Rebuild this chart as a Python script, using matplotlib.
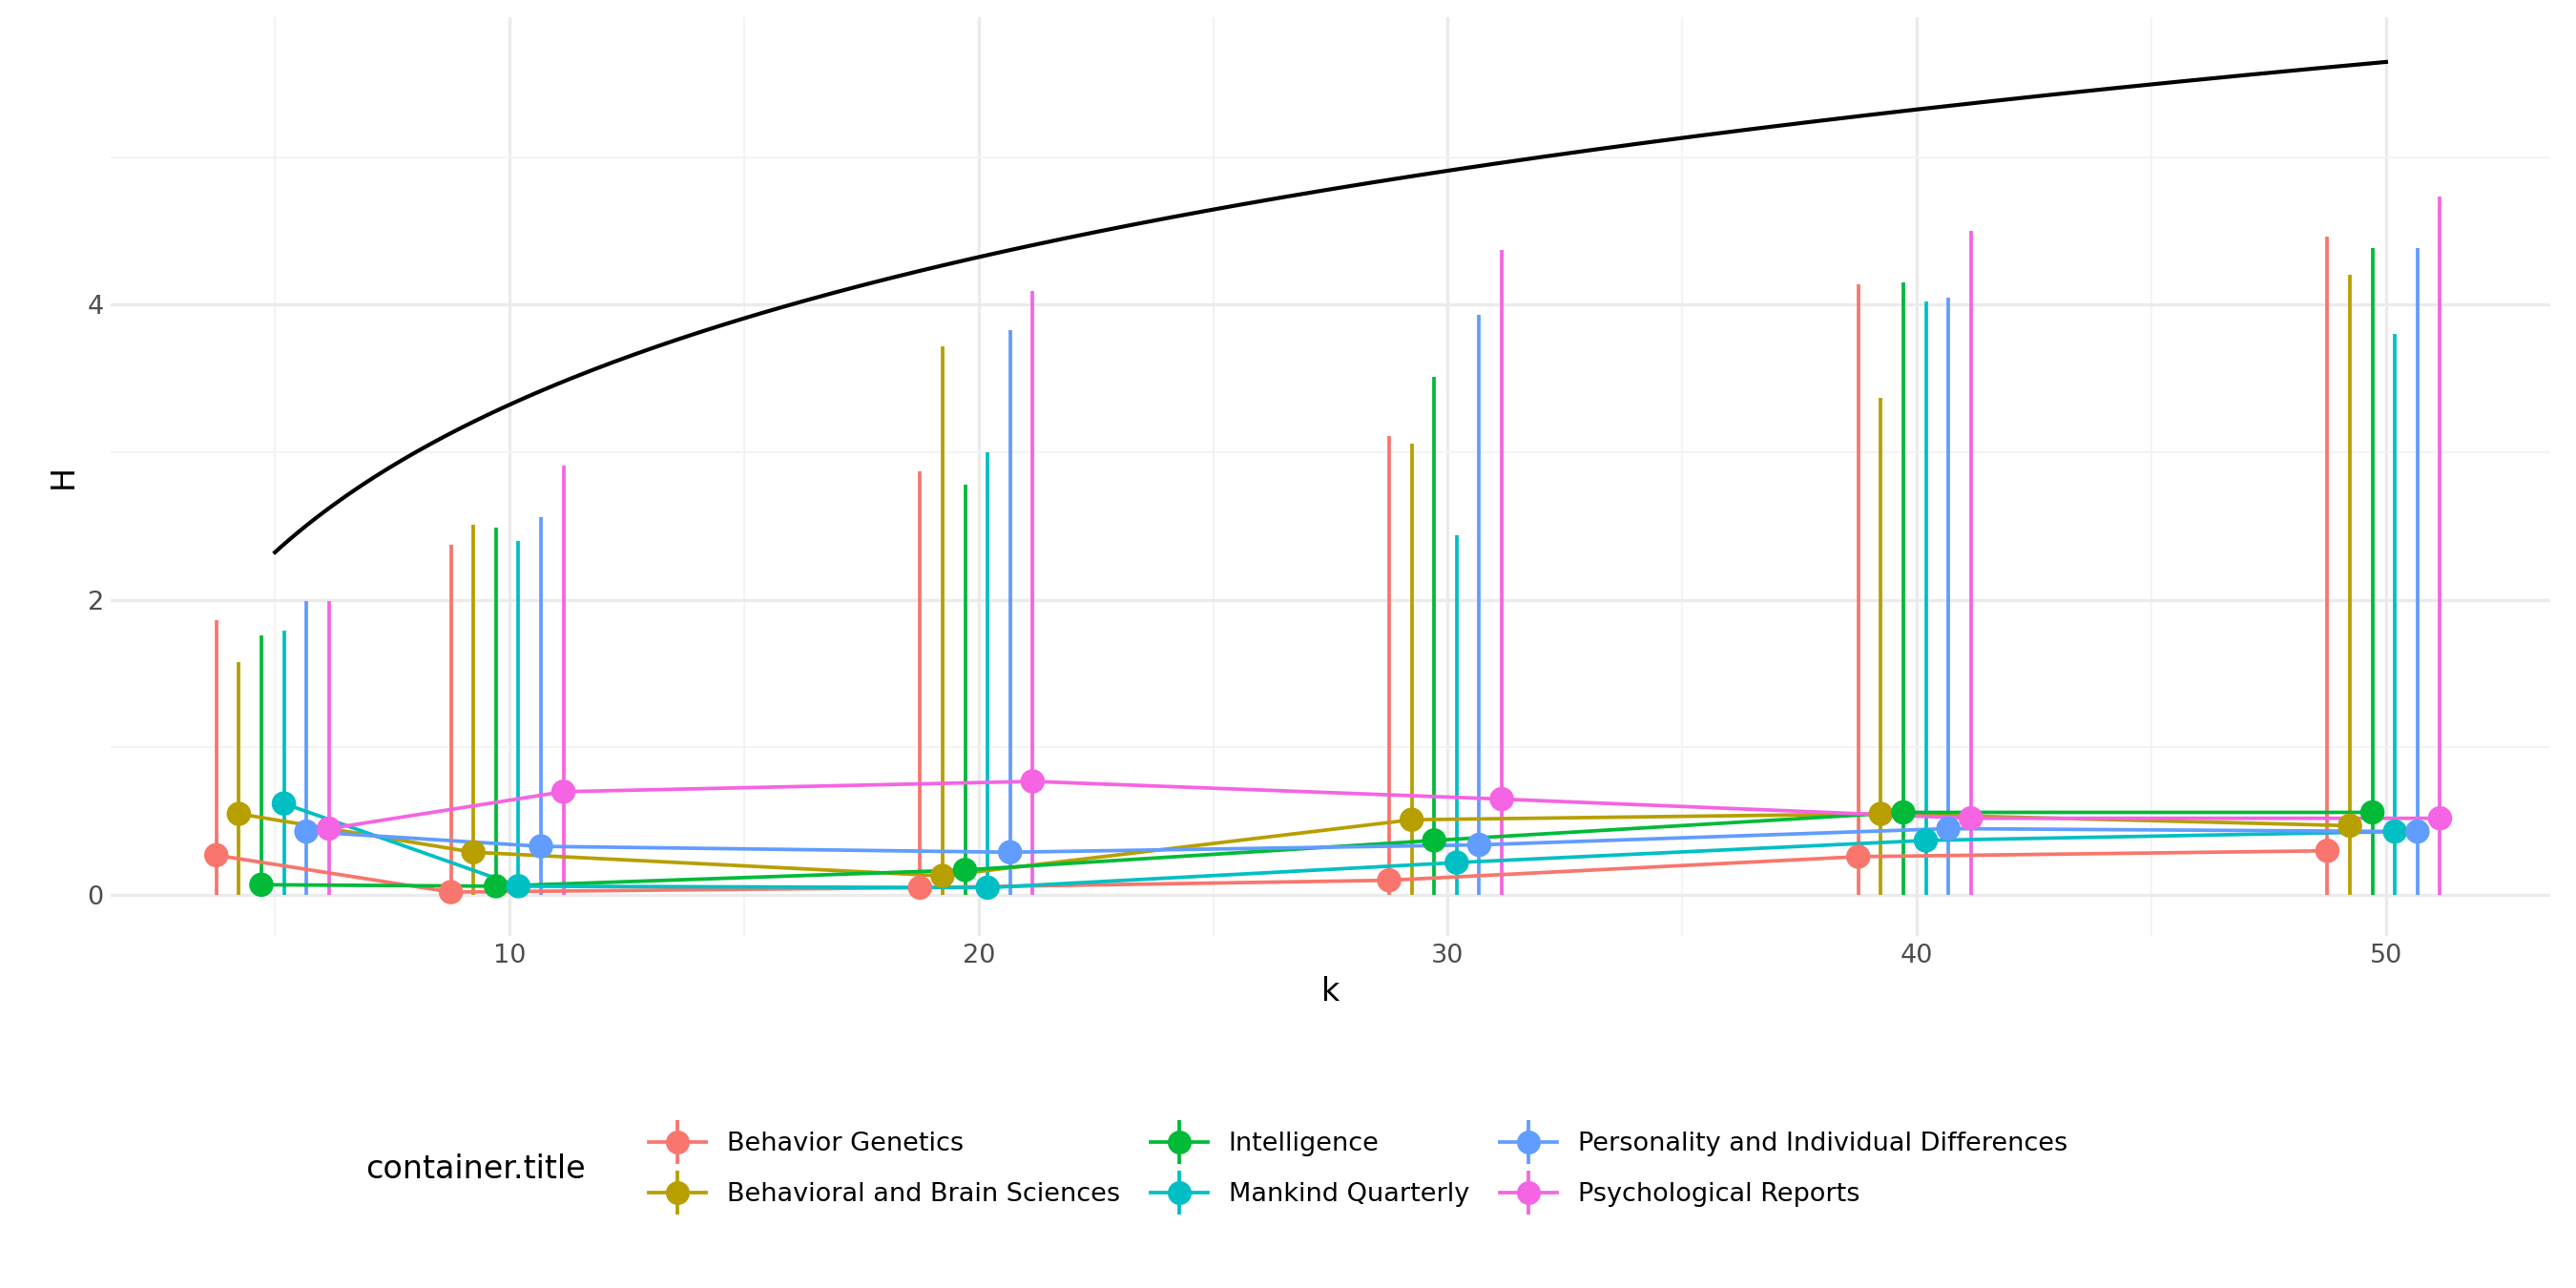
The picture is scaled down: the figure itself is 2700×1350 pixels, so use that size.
import matplotlib
matplotlib.use("Agg")
import matplotlib.pyplot as plt
import numpy as np
from matplotlib.lines import Line2D

k = [5, 10, 20, 30, 40, 50]
series = ["Behavior Genetics", "Behavioral and Brain Sciences", "Intelligence",
          "Mankind Quarterly", "Personality and Individual Differences", "Psychological Reports"]
colors = ["#F8766D", "#B79F00", "#00BA38", "#00BFC4", "#619CFF", "#F564E3"]
H = {
    "Behavior Genetics": [0.27, 0.02, 0.05, 0.10, 0.26, 0.30],
    "Behavioral and Brain Sciences": [0.55, 0.29, 0.13, 0.51, 0.55, 0.47],
    "Intelligence": [0.07, 0.06, 0.17, 0.37, 0.56, 0.56],
    "Mankind Quarterly": [0.62, 0.06, 0.05, 0.22, 0.37, 0.43],
    "Personality and Individual Differences": [0.43, 0.33, 0.29, 0.34, 0.45, 0.43],
    "Psychological Reports": [0.45, 0.70, 0.77, 0.65, 0.52, 0.52],
}
Hmax = {
    "Behavior Genetics": [1.86, 2.37, 2.87, 3.11, 4.14, 4.46],
    "Behavioral and Brain Sciences": [1.58, 2.51, 3.72, 3.06, 3.37, 4.20],
    "Intelligence": [1.76, 2.49, 2.78, 3.51, 4.15, 4.38],
    "Mankind Quarterly": [1.79, 2.40, 3.00, 2.44, 4.02, 3.80],
    "Personality and Individual Differences": [1.99, 2.56, 3.83, 3.93, 4.05, 4.38],
    "Psychological Reports": [1.99, 2.91, 4.09, 4.37, 4.50, 4.73],
}
Hmin = 0.0

fig = plt.figure(figsize=(18, 9), dpi=150)
ax = fig.add_axes([0.043, 0.273, 0.947, 0.714])
kk = np.array(k, dtype=float)
handles = []
for i, (s, c) in enumerate(zip(series, colors)):
    off = (i - 2.5) * 0.48 - 0.05
    x = kk + off
    ax.vlines(x, Hmin, Hmax[s], color=c, lw=1.8, zorder=2)
    ax.plot(x, H[s], color=c, lw=1.8, zorder=3)
    ax.scatter(x, H[s], color=c, s=150, zorder=4, edgecolors="none")
    h1 = Line2D([0], [0], color=c, lw=1.8, marker="o", markersize=11)
    h2 = Line2D([0], [0], color=c, lw=0, marker="|", markersize=22, markeredgewidth=1.8)
    handles.append((h1, h2))
kline = np.linspace(5, 50, 300)
ax.plot(kline, np.log2(kline), color="black", lw=2, zorder=5)

ax.set_xlim(1.5, 53.5)
ax.set_ylim(-0.28, 5.95)
ax.set_xticks([10, 20, 30, 40, 50])
ax.set_xticks([5, 15, 25, 35, 45], minor=True)
ax.set_yticks([0, 2, 4])
ax.set_yticks([1, 3, 5], minor=True)
ax.grid(which="major", color="#EBEBEB", lw=1.6)
ax.grid(which="minor", color="#F3F3F3", lw=0.9)
ax.set_axisbelow(True)
for sp in ax.spines.values():
    sp.set_visible(False)
ax.tick_params(which="both", length=0, labelsize=13, colors="#4D4D4D")
ax.set_xlabel("k", fontsize=16)
ax.set_ylabel("H", fontsize=16)

fig.text(0.142, 0.092, "container.title", fontsize=16, va="center", ha="left")
fig.legend(handles=handles, labels=series, loc="center left", bbox_to_anchor=(0.243, 0.092),
           ncol=3, frameon=False, fontsize=13, handlelength=2.2, columnspacing=1.2,
           labelspacing=1.0, handletextpad=0.8)
fig.savefig("out.png", dpi=150, facecolor="white")
